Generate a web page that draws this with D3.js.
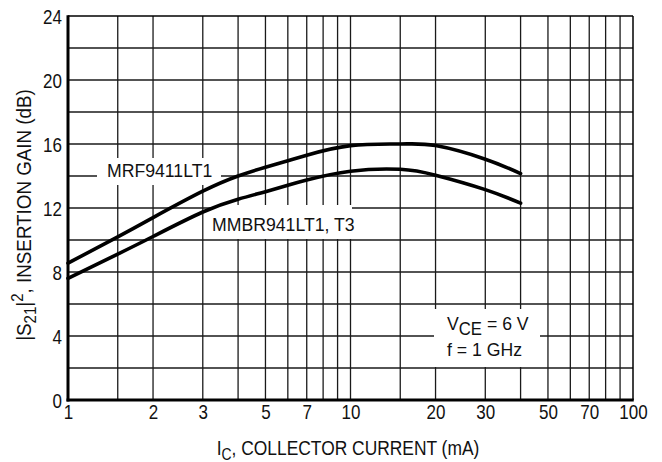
<!DOCTYPE html>
<html>
<head>
<meta charset="utf-8">
<script src="https://cdn.jsdelivr.net/npm/d3@7"></script>
<style>
  html, body { margin: 0; padding: 0; background: #fff; }
  svg { display: block; font-family: "Liberation Sans", Arial, sans-serif; }
</style>
</head>
<body>
<svg id="chart" width="662" height="462"></svg>
<script>
// ---- data ----
const current = [1, 1.5, 2, 3, 4, 5, 6, 7, 10, 15, 20, 30, 40];           // mA
const mrf9411 = [8.55, 10.2, 11.4, 13.05, 14.0, 14.55, 14.95, 15.3, 15.9, 16.0, 15.9, 15.05, 14.15];
const mmbr941 = [7.6, 9.12, 10.22, 11.75, 12.55, 13.02, 13.42, 13.75, 14.3, 14.42, 14.05, 13.15, 12.3];
const xTickLabels = [1, 2, 3, 5, 7, 10, 20, 30, 50, 70, 100];
const xGrid = [1.5, 2, 3, 4, 5, 6, 7, 8, 9, 10, 15, 20, 30, 40, 50, 60, 70, 80, 90];
const yTickLabels = [0, 4, 8, 12, 16, 20, 24];
const yGrid = [2, 4, 6, 8, 10, 12, 14, 16, 18, 20, 22];
const seriesNames = ["MRF9411LT1", "MMBR941LT1, T3"];

// ---- layout ----
const L = 68, R = 633, T = 16, B = 400;
const svg = d3.select("#chart");
const x = d3.scaleLog().domain([1, 100]).range([L, R]);
const y = d3.scaleLinear().domain([0, 24]).range([B, T]);

// grid
const grid = svg.append("g").attr("stroke", "#1a1a1a").attr("stroke-width", 1.3);
grid.selectAll("line.v").data(xGrid).join("line")
  .attr("x1", d => x(d)).attr("x2", d => x(d)).attr("y1", T).attr("y2", B);
grid.selectAll("line.h").data(yGrid).join("line")
  .attr("y1", d => y(d)).attr("y2", d => y(d)).attr("x1", L).attr("x2", R);

// white label backgrounds
const bg = svg.append("g").attr("fill", "#fff");
bg.append("rect").attr("x", 97).attr("y", 158).attr("width", 124).attr("height", 27);
bg.append("rect").attr("x", 211).attr("y", 205).attr("width", 141).attr("height", 34);
bg.append("rect").attr("x", 434).attr("y", 309).attr("width", 106).attr("height", 58);

// curves
const line = d3.line().x(d => x(d[0])).y(d => y(d[1])).curve(d3.curveNatural);
[mrf9411, mmbr941].forEach(s => {
  svg.append("path").datum(current.map((c, i) => [c, s[i]]))
    .attr("d", line).attr("fill", "none").attr("stroke", "#000")
    .attr("stroke-width", 3.6).attr("stroke-linecap", "round").attr("stroke-linejoin", "round");
});

// frame
svg.append("line").attr("x1", L).attr("x2", R).attr("y1", T).attr("y2", T).attr("stroke", "#000").attr("stroke-width", 1.5);
svg.append("line").attr("x1", R).attr("x2", R).attr("y1", T).attr("y2", B).attr("stroke", "#000").attr("stroke-width", 1.5);
svg.append("line").attr("x1", L).attr("x2", L).attr("y1", T - 0.75).attr("y2", B + 1.5).attr("stroke", "#000").attr("stroke-width", 3);
svg.append("line").attr("x1", L - 1.5).attr("x2", R + 0.75).attr("y1", B).attr("y2", B).attr("stroke", "#000").attr("stroke-width", 3);

// text helper
function label(px, py, fs, sx, anchor, rot, parts) {
  const t = svg.append("text")
    .attr("transform", `translate(${px},${py})` + (rot ? ` rotate(${rot})` : "") + ` scale(${sx},1)`)
    .attr("font-size", fs).attr("text-anchor", anchor).attr("fill", "#111");
  let cur = 0;
  parts.forEach(p => {
    const off = p.off || 0;
    const ts = t.append("tspan").text(p.t).attr("dy", off - cur);
    cur = off;
    if (p.fs) ts.attr("font-size", p.fs);
  });
  return t;
}

// axes via d3 scales (tick labels only; ticks drawn as grid)
const xAxis = d3.axisBottom(x).tickValues(xTickLabels).tickFormat(d3.format("d")).tickSize(0);
const gx = svg.append("g").attr("transform", `translate(0,${B})`).call(xAxis);
gx.select(".domain").remove();
gx.selectAll("text").attr("font-size", 20).attr("fill", "#111")
  .attr("font-family", "Liberation Sans, Arial, sans-serif")
  .attr("y", 0).attr("dy", 0)
  .attr("transform", "translate(0,19) scale(0.85,1)");

const yAxis = d3.axisLeft(y).tickValues(yTickLabels).tickFormat(d3.format("d")).tickSize(0);
const gy = svg.append("g").attr("transform", `translate(${L - 6},0)`).call(yAxis);
gy.select(".domain").remove();
gy.selectAll("text").attr("font-size", 20).attr("fill", "#111")
  .attr("font-family", "Liberation Sans, Arial, sans-serif")
  .attr("x", 0).attr("dy", 0)
  .attr("transform", "translate(0,7) scale(0.85,1)");

// series labels
label(107, 177, 19, 0.93, "start", 0, [{ t: seriesNames[0] }]);
label(212, 231, 19, 0.93, "start", 0, [{ t: seriesNames[1] }]);

// conditions
label(447, 330, 19, 0.93, "start", 0, [{ t: "V" }, { t: "CE", off: 5, fs: 18 }, { t: " = 6 V", off: 0 }]);
label(447, 356, 19, 0.93, "start", 0, [{ t: "f = 1 GHz" }]);

// axis titles
label(348, 455, 20, 0.87, "middle", 0, [{ t: "I" }, { t: "C", off: 5, fs: 16 }, { t: ", COLLECTOR CURRENT (mA)", off: 0 }]);
label(31, 215, 20, 0.94, "middle", -90, [
  { t: "|S" }, { t: "21", off: 5, fs: 16 }, { t: "|", off: 0 }, { t: "2", off: -8, fs: 16 },
  { t: ", INSERTION GAIN (dB)", off: 0 }
]);
</script>
</body>
</html>
